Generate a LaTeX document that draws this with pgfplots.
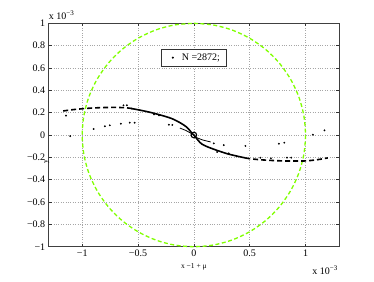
\documentclass[border=0pt]{standalone}
\usepackage{fontspec}
\setmainfont{Liberation Serif}
\usepackage{pgfplots}
\pgfplotsset{compat=1.18}
\definecolor{lgreen}{rgb}{0.5,1,0}
\begin{document}
\begin{tikzpicture}
\begin{axis}[
  scale only axis, width=290.3pt, height=223.4pt,
  xmin=-1.3, xmax=1.3, ymin=-1, ymax=1,
  xtick={-1,-0.5,0,0.5,1},
  xticklabels={−1,−0.5,0,0.5,1},
  ytick={-1,-0.8,-0.6,-0.4,-0.2,0,0.2,0.4,0.6,0.8,1},
  yticklabels={−1,−0.8,−0.6,−0.4,−0.2,0,0.2,0.4,0.6,0.8,1},
  scaled ticks=false,
  grid=major, major grid style={dotted, black!35, line width=0.5pt},
  tick align=inside, major tick length=3pt, tick style={black!80, line width=0.5pt},
  axis line style={black!75, line width=0.8pt},
  ticklabel style={font=\fontsize{10}{12}\selectfont},
  clip=false,
  legend style={at={(0.5,0.886)}, anchor=north, draw=black!80, line width=0.6pt,
    font=\fontsize{10}{12}\selectfont, inner xsep=4pt, inner ysep=2.5pt},
]
% reference circle (radius 1e-3)
\addplot[lgreen, line width=1.3pt, dash pattern=on 4pt off 2.5pt, smooth, forget plot] coordinates {
(0,1)(0.174,0.985)(0.342,0.940)(0.5,0.866)(0.643,0.766)(0.766,0.643)(0.866,0.5)(0.940,0.342)(0.985,0.174)
(1,0)(0.985,-0.174)(0.940,-0.342)(0.866,-0.5)(0.766,-0.643)(0.643,-0.766)(0.5,-0.866)(0.342,-0.940)(0.174,-0.985)
(0,-1)(-0.174,-0.985)(-0.342,-0.940)(-0.5,-0.866)(-0.643,-0.766)(-0.766,-0.643)(-0.866,-0.5)(-0.940,-0.342)(-0.985,-0.174)
(-1,0)(-0.985,0.174)(-0.940,0.342)(-0.866,0.5)(-0.766,0.643)(-0.643,0.766)(-0.5,0.866)(-0.342,0.940)(-0.174,0.985)(0,1)
};
% orbit: left dashed part
\addplot[black, line width=1.6pt, dash pattern=on 5pt off 3pt, smooth, forget plot] coordinates {
(-1.17,0.215)(-1.1,0.225)(-1.0,0.235)(-0.9,0.242)(-0.8,0.246)(-0.7,0.247)(-0.6,0.243)(-0.55,0.236)
};
% orbit: solid middle part
\addplot[black, line width=1.6pt, smooth, forget plot] coordinates {
(-0.56,0.237)(-0.5,0.226)(-0.4,0.205)(-0.3,0.179)(-0.2,0.148)(-0.12,0.108)(-0.07,0.075)(-0.04,0.045)(-0.02,0.02)(0,0)
(0.02,-0.025)(0.04,-0.05)(0.07,-0.08)(0.12,-0.105)(0.2,-0.135)(0.3,-0.168)(0.4,-0.192)(0.46,-0.205)
};
% orbit: right dashed part
\addplot[black, line width=1.6pt, dash pattern=on 5pt off 3pt, smooth, forget plot] coordinates {
(0.46,-0.205)(0.5,-0.212)(0.6,-0.222)(0.7,-0.228)(0.8,-0.232)(0.9,-0.233)(1.0,-0.232)(1.1,-0.222)(1.2,-0.205)
};
% secondary thin branches
\addplot[black, line width=0.8pt, forget plot] coordinates {(-0.125,0.062)(-0.07,0.04)(-0.02,0.012)};
\addplot[black, line width=0.8pt, forget plot] coordinates {(0.02,-0.022)(0.08,-0.045)(0.15,-0.062)};
% small loop at the centre
\addplot[only marks, mark=o, mark size=2.8pt, mark options={line width=1.1pt}, black, forget plot] coordinates {(0,0)};
% scattered points
\addplot[only marks, mark=*, mark size=0.7pt, black,
  legend image code/.code={\path[draw=none] (0pt,0pt) -- (14pt,0pt); \fill[black] (7pt,0pt) circle (0.7pt);}] coordinates {
(-1.145,0.173)(-1.107,-0.01)(-0.898,0.054)(-0.797,0.078)(-0.753,0.087)(-0.654,0.101)(-0.574,0.11)(-0.53,0.11)
(-0.63,0.266)(-0.6,0.266)(-0.357,0.185)(-0.312,0.176)(-0.223,0.092)(-0.193,0.09)
(0.179,-0.075)(0.268,-0.09)(0.462,-0.098)(0.762,-0.078)(0.81,-0.069)(1.066,0.003)(1.17,0.042)
(0.596,-0.203)(0.69,-0.209)(0.834,-0.203)(0.872,-0.203)(0.209,-0.152)(0.313,-0.164)
};
\addlegendentry{N =2872;}
\node[anchor=base west, font=\fontsize{10}{12}\selectfont, inner sep=0pt] at (rel axis cs:0,1) [yshift=4pt] {x 10\textsuperscript{−3}};
\node[anchor=base east, font=\fontsize{10}{12}\selectfont, inner sep=0pt] at (rel axis cs:1,0) [yshift=-27.3pt, xshift=-1pt] {x 10\textsuperscript{−3}};
\node[anchor=base, font=\fontsize{7.5}{9}\selectfont, inner sep=0pt] at (rel axis cs:0.5,0) [yshift=-21.5pt] {x −1 + μ};
\node[rotate=90, font=\fontsize{7.5}{9}\selectfont, inner sep=0pt] at (rel axis cs:0,0.5) [xshift=-27pt, yshift=2pt] {y};
\end{axis}
\pgfresetboundingbox
\path[use as bounding box] ([shift={(-48.7pt,-34.3pt)}]current axis.south west) rectangle ([shift={(35pt,23.3pt)}]current axis.north east);
\end{tikzpicture}
\end{document}
